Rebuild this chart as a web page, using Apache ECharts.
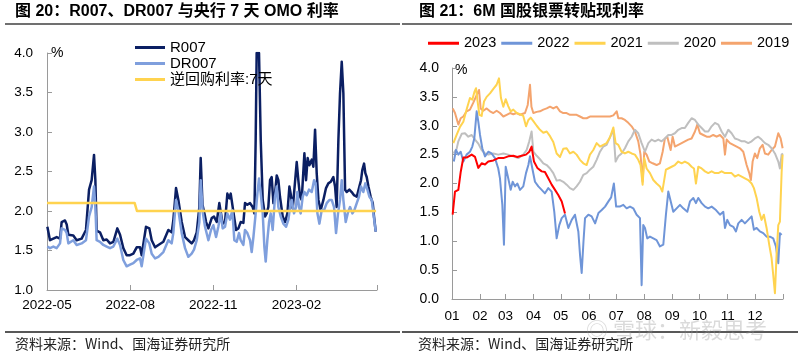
<!DOCTYPE html>
<html><head><meta charset="utf-8">
<script src="https://cdn.jsdelivr.net/npm/echarts@6/dist/echarts.min.js"></script>
<style>html,body{margin:0;padding:0;background:#fff}#c{width:800px;height:356px}</style>
</head><body><div id="c"></div>
<script>
// ---------- Left panel: days since 2022-05-01 ----------
const leftTickDays = [0, 92, 184, 276, 365];
const leftTickLabels = ['2022-05', '2022-08', '2022-11', '2023-02', ''];
const leftSeriesNames = ['R007', 'DR007', '逆回购利率:7天'];
const r007 = [[0.4,1.80],[3.3,1.63],[7,1.65],[10.7,1.67],[14.4,1.65],[16.2,1.86],[19.9,1.88],[21.8,1.83],[23.6,1.70],[29.1,1.69],[32.8,1.63],[38.3,1.65],[43.1,1.76],[46.5,2.27],[49.4,2.39],[52,2.71],[53.5,2.39],[54.9,1.75],[58.6,1.73],[62.3,1.63],[66,1.64],[69.7,1.59],[73.4,1.61],[77.8,1.78],[80.8,1.70],[84.4,1.53],[88.1,1.44],[91.8,1.44],[95.5,1.46],[99.2,1.54],[102.9,1.54],[104.7,1.44],[109.5,1.80],[113.2,1.78],[115.8,1.63],[119.5,1.54],[123.2,1.57],[128.7,1.61],[134.2,1.76],[137.9,1.73],[139.7,1.88],[142.7,2.29],[145.3,2.14],[149,1.86],[152.7,1.67],[156.3,1.63],[160,1.59],[162.6,1.63],[165.6,1.73],[168.5,2.05],[170,2.67],[172,2.08],[174.5,1.95],[176,1.86],[178.5,1.78],[182.2,1.91],[184.7,1.93],[187.7,1.86],[190.6,2.10],[192.5,2.12],[194.3,1.84],[196.9,1.86],[199.5,2.22],[201.7,2.16],[203.2,2.22],[205.4,2.24],[206.9,1.93],[209.1,1.76],[211.7,1.78],[214.2,1.86],[217.2,1.85],[219,2.10],[221.6,2.08],[224.6,2.10],[227.5,2.05],[229.4,1.97],[230.8,2.90],[231.9,4.0],[234.5,4.0],[236.4,2.90],[238.6,2.14],[241.2,1.93],[243,1.97],[244.8,2.05],[246.7,2.39],[248.5,2.43],[250.4,2.10],[252.2,2.22],[254.1,2.45],[255.9,2.39],[257.7,2.18],[260.7,1.93],[263.3,1.86],[265.9,1.97],[268.1,2.31],[269.5,2.22],[271.8,2.03],[273.6,2.05],[276.2,2.62],[278,2.39],[279.9,2.18],[281.7,2.14],[284.7,2.73],[286.5,2.39],[288.3,2.67],[290.2,2.58],[292.8,2.65],[294.6,2.56],[296.5,3.03],[298.3,2.48],[300.2,2.14],[302.7,2.01],[305.7,2.14],[308.6,2.29],[311.2,2.35],[313.8,2.37],[316.7,2.43],[318.6,2.31],[320.4,2.05],[322.3,2.90],[324.1,3.49],[326,3.89],[327.8,3.49],[329.7,2.27],[331.5,2.24],[334.4,2.27],[337,2.24],[339.6,2.20],[342.6,2.18],[345.5,2.31],[347.3,2.39],[348.8,2.52],[350.7,2.60],[352.1,2.48],[353.6,2.43],[355.5,2.31],[358,2.18],[360.3,2.10],[361.7,1.93],[363.6,1.74]];
const dr007 = [[0.4,1.55],[3.3,1.53],[7,1.55],[10.7,1.53],[14.4,1.59],[16.2,1.78],[19.9,1.76],[21.8,1.72],[23.6,1.59],[29.1,1.63],[32.8,1.57],[38.3,1.59],[43.1,1.63],[46.5,1.93],[49.4,2.05],[52,2.31],[53.5,2.05],[54.9,1.63],[58.6,1.61],[62.3,1.57],[66,1.55],[69.7,1.53],[73.4,1.55],[77.8,1.65],[80.8,1.57],[84.4,1.38],[88.1,1.30],[91.8,1.32],[95.5,1.34],[99.2,1.38],[102.9,1.40],[104.7,1.30],[109.5,1.65],[113.2,1.59],[115.8,1.46],[119.5,1.40],[123.2,1.42],[128.7,1.48],[134.2,1.63],[137.9,1.59],[139.7,1.72],[142.7,2.14],[145.3,2.01],[149,1.72],[152.7,1.53],[156.3,1.42],[160,1.46],[162.6,1.51],[165.6,1.63],[168.5,1.86],[170,2.39],[172.2,1.99],[174.8,1.80],[178.5,1.63],[181.4,1.76],[184,1.82],[187,1.67],[189.5,1.80],[192.1,1.97],[194.3,1.78],[196.9,1.80],[199.5,1.97],[202.4,1.89],[205,2.01],[207.2,1.63],[209.8,1.61],[212.4,1.72],[214.2,1.63],[217.2,1.57],[219,1.76],[221.6,1.72],[224.6,1.63],[226.4,1.48],[228.3,1.67],[230.8,1.97],[232.7,2.22],[234.5,2.41],[236.4,2.22],[238.6,1.97],[240.4,1.55],[241.9,1.36],[243.7,1.63],[245.6,1.86],[247.4,1.97],[249.6,1.76],[252.2,2.18],[254.1,2.31],[255.9,2.05],[258.5,1.93],[261.4,1.84],[264.4,1.80],[267,1.89],[268.8,2.05],[270.7,2.14],[273.2,1.97],[275.4,2.05],[276.9,2.24],[278.8,2.05],[280.6,1.97],[282.8,2.18],[284.7,2.24],[287.2,2.20],[289.8,2.27],[292.8,2.24],[295.4,2.39],[297.2,2.35],[299.1,1.97],[301.3,1.84],[303.8,2.01],[306.4,2.01],[309.4,2.10],[312.3,2.14],[314.9,2.14],[317.5,2.05],[319.7,1.72],[321.9,1.97],[324.1,2.14],[326,2.39],[327.8,2.14],[330.4,1.86],[332.6,1.97],[335.2,2.05],[337.8,1.97],[340,2.01],[342.6,2.10],[345.1,2.18],[347.3,2.31],[349.9,2.24],[352.1,2.35],[354.4,2.27],[356.6,2.18],[359.2,2.14],[361,1.97],[363.6,1.74]];
const omo7d = [[0,2.10],[97,2.10],[99.5,2.00],[364,2.00]];

// ---------- Right panel: day of year ----------
const monthStartDays = [0,31,59,90,120,151,181,212,243,273,304,334,365];
const monthLabels = ['01','02','03','04','05','06','07','08','09','10','11','12',''];
const yearNames = ['2023','2022','2021','2020','2019'];
const y2023 = [[0.7,1.46],[3.3,1.86],[7,1.89],[9.6,2.2],[12.5,2.45],[16.1,2.45],[21.7,2.50],[25.4,2.46],[29,2.27],[32.7,2.35],[36.4,2.33],[40,2.38],[45.6,2.40],[51,2.44],[56.6,2.44],[62,2.47],[67.6,2.48],[72,2.46],[76.8,2.48],[81.6,2.50],[85.2,2.55],[87.8,2.64],[90.4,2.38],[94.1,2.27],[98.9,2.21],[102.5,2.20],[106.2,2.09],[109.9,1.98],[113.6,1.89],[117.2,1.80],[121,1.69],[124.6,1.48]];
const y2022 = [[2,2.38],[4.4,2.58],[7,2.50],[9.6,2.55],[12.5,2.38],[16.1,2.50],[19.8,2.55],[22.4,2.64],[24.6,2.78],[27.2,3.25],[29,3.07],[30.9,2.84],[33.4,2.61],[36.4,2.47],[40,2.55],[43.7,2.52],[47.4,2.44],[51,2.26],[52.9,2.09],[55.5,1.63],[57.3,0.94],[59.2,2.29],[62,2.09],[64.7,1.89],[66.9,2.03],[69.5,1.95],[72,2.00],[75,1.89],[78.6,1.95],[81.6,2.18],[84.2,2.32],[86,2.47],[88.6,2.26],[91.5,2.03],[95.2,1.95],[98.9,1.89],[102.5,1.83],[106.2,1.92],[109.9,1.86],[112.8,1.51],[115.4,1.05],[118.3,1.28],[121,1.40],[124.6,1.46],[128.3,1.23],[132,1.37],[135.6,1.46],[139.3,1.17],[141.2,0.76],[143,0.45],[145,1.00],[146.7,1.40],[150.4,1.46],[154,1.43],[157.8,1.31],[161.5,1.49],[165.1,1.54],[168.8,1.60],[172.5,1.69],[175.5,1.76],[178.5,2.00],[181,1.60],[185,1.60],[188.9,1.63],[192.6,1.57],[196.3,1.60],[199.9,1.57],[203.6,1.46],[207.3,1.40],[209.1,0.24],[210.9,1.28],[212.8,1.23],[215.3,1.05],[218.3,1.08],[222,1.05],[225.6,1.02],[229.3,0.91],[233,0.94],[235.9,1.46],[238.5,1.86],[240.3,1.89],[244,1.51],[247.7,1.57],[251.4,1.63],[255,1.57],[259.5,1.51],[262.4,1.69],[266.1,1.75],[269,1.66],[271.6,1.75],[275.3,1.66],[279,1.60],[282.6,1.57],[286.3,1.60],[291.1,1.54],[295.5,1.46],[299.2,1.51],[301,1.23],[303.6,1.37],[306.5,1.28],[310.2,1.25],[313.1,1.17],[315.7,1.31],[319.4,1.37],[323,1.31],[326.7,1.37],[330.4,1.43],[332.9,1.20],[335.9,1.23],[339.5,1.17],[343.2,1.14],[346.9,1.08],[350.6,1.08],[354.2,1.05],[357.2,0.91],[359.8,0.62],[361.6,1.14],[363.5,1.11]];
const y2021 = [[1.5,2.70],[5.1,2.84],[8.8,2.98],[12.5,3.07],[16.1,3.28],[19.8,3.48],[22.4,3.45],[24.6,3.58],[26.5,3.65],[28,3.45],[30.2,3.19],[32.7,3.17],[35.3,3.42],[38.2,3.50],[41.9,3.56],[45.6,3.64],[49.2,3.71],[51.8,3.82],[54,3.48],[56.6,3.33],[59.2,3.46],[62,3.34],[64.7,3.25],[67.6,3.28],[71.3,3.22],[75,3.20],[78.6,3.17],[81.6,2.99],[84.2,3.10],[86.8,3.14],[89.7,3.08],[93.4,3.00],[97,2.93],[100.7,2.88],[104.4,2.90],[108.1,2.82],[111.7,2.72],[115.4,2.52],[119.1,2.46],[122.7,2.60],[126.4,2.61],[130.1,2.52],[133.8,2.55],[137.4,2.50],[141.1,2.41],[144.8,2.35],[148.5,2.32],[152.1,2.50],[155.8,2.58],[159.5,2.70],[163.2,2.64],[166.8,2.67],[170.5,2.70],[174.2,2.80],[177.9,2.97],[180.4,2.70],[183.4,2.67],[187,2.55],[190.7,2.52],[194.4,2.55],[198.1,2.52],[201.7,2.50],[205.4,2.41],[207.9,2.32],[210.2,1.98],[212,2.44],[214.6,2.26],[218.3,2.18],[222,2.06],[225.6,2.00],[229.3,1.95],[231.9,1.86],[234.1,1.86],[235.9,2.24],[238.5,2.26],[242.2,2.29],[245.8,2.32],[249.5,2.38],[253.2,2.35],[256.8,2.38],[260.5,2.35],[264.2,2.29],[266.8,2.26],[269,2.00],[271.6,2.29],[275.3,2.26],[279,2.21],[282.6,2.18],[286.3,2.21],[290,2.18],[293.7,2.18],[297.3,2.21],[301,2.18],[304.7,2.18],[308.3,2.18],[312,2.12],[315.7,2.15],[319.4,2.12],[323,2.09],[326.7,2.06],[330.4,2.00],[332.9,1.92],[335.9,1.75],[338.8,1.51],[341.4,1.37],[343.9,1.46],[346.9,1.23],[349.8,0.94],[352.4,0.71],[354.2,0.42],[356.1,0.10],[357.9,0.76],[359.8,1.28],[361.6,1.34],[363.5,2.2],[364.6,2.5]];
const y2020 = [[1.5,2.52],[5.1,2.60],[7,2.73],[10.7,2.86],[14.3,2.87],[18,2.81],[21.7,2.84],[25.4,2.76],[29,2.69],[32.7,2.58],[36.4,2.52],[40,2.50],[45.6,2.52],[51,2.50],[56.6,2.52],[62,2.50],[67.6,2.47],[73.1,2.44],[78.6,2.50],[82.3,2.58],[85.2,2.73],[87.8,2.90],[89.7,2.55],[93.4,2.48],[97,2.42],[100.7,2.35],[104.4,2.32],[108.1,2.26],[111.7,2.18],[115.4,2.05],[119.1,2.06],[122.7,2.03],[126.4,1.98],[130.1,1.92],[133.8,1.89],[137.4,1.95],[141.1,2.03],[144.8,2.15],[148.5,2.18],[152.1,2.24],[155.8,2.29],[159.5,2.41],[163.2,2.55],[166.8,2.64],[170.5,2.67],[174.2,2.80],[177.9,2.93],[180.4,2.38],[183.4,2.47],[187,2.52],[190.7,2.61],[194.4,2.73],[198.1,2.81],[201.7,2.93],[205.4,2.87],[209.1,2.70],[212.8,2.55],[216.5,2.70],[220.1,2.76],[223.8,2.73],[227.5,2.76],[231.1,2.73],[234.8,2.78],[238.5,2.84],[242.2,2.84],[245.8,2.87],[249.5,2.93],[253.2,2.96],[256.8,2.96],[260.5,3.05],[264.2,3.13],[267.9,3.10],[271.6,3.02],[275.3,2.96],[279,2.90],[282.6,2.90],[286.3,2.99],[290,3.05],[293.7,3.02],[297.3,2.90],[301,2.81],[304.7,2.93],[308.3,2.87],[312,2.78],[315.7,2.76],[319.4,2.73],[323,2.73],[326.7,2.70],[330.4,2.73],[334,2.78],[337.7,2.81],[341.4,2.76],[345.1,2.70],[348.7,2.67],[352.4,2.61],[356.1,2.52],[359.8,2.38],[361.6,2.26],[363.5,2.50],[365,2.52]];
const y2019 = [[0.8,3.30],[3.3,3.22],[7,3.02],[9.6,3.13],[12.5,3.16],[16.1,3.25],[19.8,3.28],[23.5,3.40],[27.2,3.53],[29.8,3.62],[31.6,3.30],[34.5,3.26],[38.2,3.30],[41.9,3.25],[45.6,3.22],[49.2,3.26],[52.9,3.22],[56.6,3.16],[60.3,3.19],[64,3.22],[67.6,3.20],[71.3,3.22],[75,3.19],[80.5,3.22],[83.5,3.36],[86,3.71],[87.6,3.33],[89.7,3.22],[93.4,3.24],[97,3.25],[100.7,3.28],[104.4,3.30],[108.1,3.33],[111.7,3.30],[115.4,3.33],[119.1,3.25],[122.7,3.22],[126.4,3.22],[130.1,3.19],[133.8,3.19],[137.4,3.19],[141.1,3.16],[144.8,3.13],[148.5,3.13],[152.1,3.16],[155.8,3.16],[159.5,3.16],[163.2,3.16],[166.8,3.16],[170.5,3.16],[174.2,3.16],[177.9,3.18],[181.6,3.25],[183.4,3.13],[187,3.13],[190.7,3.10],[194.4,3.05],[198.1,2.99],[201.7,2.90],[205.4,2.73],[207.9,2.50],[210.2,2.03],[212,2.55],[214.6,2.50],[217.6,2.38],[221.3,2.35],[225.6,2.32],[229.3,2.35],[232.3,2.55],[234.8,2.78],[237.4,2.81],[239.6,2.67],[241.1,2.58],[243.3,2.81],[245.8,2.64],[249.5,2.67],[253.2,2.70],[256.8,2.73],[260.5,2.76],[264.2,2.78],[267.9,2.90],[270.5,3.02],[273.4,2.87],[277.1,2.84],[280.8,2.81],[284.5,2.81],[288.1,2.84],[291.8,2.81],[295.5,2.84],[299.2,2.78],[301,2.50],[302.9,2.76],[306.5,2.70],[310.2,2.67],[313.9,2.64],[317.5,2.61],[321.2,2.55],[324.9,2.32],[327.8,2.18],[329.6,2.06],[331.5,2.38],[334,2.52],[336.6,2.44],[339.5,2.61],[342.5,2.67],[345.1,2.52],[348.7,2.50],[352.4,2.58],[356.1,2.64],[359.8,2.87],[362.4,2.78],[364.6,2.61]];

const FONT = "'Liberation Sans', Arial, 'Noto Sans CJK SC', sans-serif";
const CJK = "'Noto Sans CJK SC', 'Liberation Sans', sans-serif";
const AXIS_C = '#9a9a9a';

function lineSeries(name, data, color, width, xi, z) {
  return { name, type: 'line', data, xAxisIndex: xi, yAxisIndex: xi, symbol: 'none', showSymbol: false,
    lineStyle: { color, width, join: 'round' }, itemStyle: { color }, z: z || 2, animation: false };
}

const chart = echarts.init(document.getElementById('c'), null, { renderer: 'canvas' });
chart.setOption({
  animation: false,
  backgroundColor: '#fff',
  textStyle: { fontFamily: FONT },
  grid: [
    { left: 47, top: 53, width: 330, height: 237 },
    { left: 452, top: 68, width: 331, height: 231 }
  ],
  legend: [
    { data: leftSeriesNames, orient: 'vertical', left: 130, top: 35, icon: 'rect', itemWidth: 30, itemHeight: 3, itemGap: 1,
      textStyle: { fontSize: 15, color: '#000', fontFamily: FONT } },
    { data: yearNames, orient: 'horizontal', left: 423, top: 31, icon: 'rect', itemWidth: 31, itemHeight: 3, itemGap: 5,
      textStyle: { fontSize: 14.5, color: '#000', fontFamily: FONT } }
  ],
  xAxis: [
    { type: 'value', gridIndex: 0, min: 0, max: 365,
      axisLine: { show: true, lineStyle: { color: AXIS_C, width: 1 } },
      axisTick: { show: true, inside: true, length: 5, customValues: leftTickDays, lineStyle: { color: AXIS_C } },
      axisLabel: { customValues: leftTickDays, formatter: v => leftTickLabels[leftTickDays.indexOf(v)] || '',
        fontSize: 13.5, color: '#000', margin: 9, fontFamily: FONT },
      splitLine: { show: false } },
    { type: 'value', gridIndex: 1, min: 0, max: 365,
      axisLine: { show: true, lineStyle: { color: AXIS_C, width: 1 } },
      axisTick: { show: true, inside: true, length: 5, customValues: monthStartDays, lineStyle: { color: AXIS_C } },
      axisLabel: { customValues: monthStartDays, formatter: v => monthLabels[monthStartDays.indexOf(v)] || '',
        fontSize: 13.5, color: '#000', margin: 11, fontFamily: FONT },
      splitLine: { show: false } }
  ],
  yAxis: [
    { type: 'value', gridIndex: 0, min: 1, max: 4, interval: 0.5, name: '%', nameLocation: 'end', nameGap: 0,
      nameTextStyle: { align: 'left', verticalAlign: 'middle', padding: [0, 0, 0, 4], fontSize: 14, color: '#000', fontFamily: FONT },
      axisLine: { show: true, lineStyle: { color: AXIS_C, width: 1 } },
      axisTick: { show: true, inside: true, length: 5, lineStyle: { color: AXIS_C } },
      axisLabel: { formatter: v => v.toFixed(1), fontSize: 13.5, color: '#000', margin: 14, fontFamily: FONT },
      splitLine: { show: false } },
    { type: 'value', gridIndex: 1, min: 0, max: 4, interval: 0.5, name: '%', nameLocation: 'end', nameGap: 0,
      nameTextStyle: { align: 'left', verticalAlign: 'top', padding: [-5, 0, 0, 3], fontSize: 14, color: '#000', fontFamily: FONT },
      axisLine: { show: true, lineStyle: { color: AXIS_C, width: 1 } },
      axisTick: { show: true, inside: true, length: 5, lineStyle: { color: AXIS_C } },
      axisLabel: { formatter: v => v.toFixed(1), fontSize: 14, color: '#000', margin: 13, fontFamily: FONT },
      splitLine: { show: false } }
  ],
  series: [
    lineSeries('R007', r007, '#0b1f63', 2.5, 0, 2),
    lineSeries('DR007', dr007, '#7f9fdd', 2.5, 0, 3),
    lineSeries('逆回购利率:7天', omo7d, '#ffd34f', 2.5, 0, 4),
    lineSeries('2023', y2023, '#ff0000', 2, 1, 9),
    lineSeries('2022', y2022, '#6f95d8', 2, 1, 5),
    lineSeries('2021', y2021, '#ffd34f', 2, 1, 6),
    lineSeries('2020', y2020, '#bfbfbf', 2, 1, 4),
    lineSeries('2019', y2019, '#f4a46e', 2, 1, 3)
  ],
  graphic: [
    { type: 'text', left: 15, top: 4, style: { text: '图 20：R007、DR007 与央行 7 天 OMO 利率', font: 'bold 16px ' + FONT, fill: '#000' } },
    { type: 'text', left: 419, top: 4, style: { text: '图 21：6M 国股银票转贴现利率', font: 'bold 16px ' + FONT, fill: '#000' } },
    { type: 'line', shape: { x1: 5, y1: 24, x2: 400, y2: 24 }, style: { stroke: '#404040', lineWidth: 1.5 } },
    { type: 'line', shape: { x1: 402, y1: 24, x2: 792, y2: 24 }, style: { stroke: '#404040', lineWidth: 1.5 } },
    { type: 'line', shape: { x1: 5, y1: 332, x2: 400, y2: 332 }, style: { stroke: '#202020', lineWidth: 1.5 } },
    { type: 'line', shape: { x1: 402, y1: 332, x2: 798, y2: 332 }, style: { stroke: '#202020', lineWidth: 1.5 } },
    { type: 'text', left: 586, top: 319, z: 1, style: { text: '◎ 雪球：新毅思考', font: '22px ' + CJK, fill: 'rgba(150,150,150,0.35)' } },
    { type: 'text', left: 15, top: 337, style: { text: '资料来源：Wind、国海证券研究所', font: '14px ' + CJK, fill: '#222' } },
    { type: 'text', left: 418, top: 337, style: { text: '资料来源：Wind、国海证券研究所', font: '14px ' + CJK, fill: '#222' } }
  ]
});
</script>
</body></html>
